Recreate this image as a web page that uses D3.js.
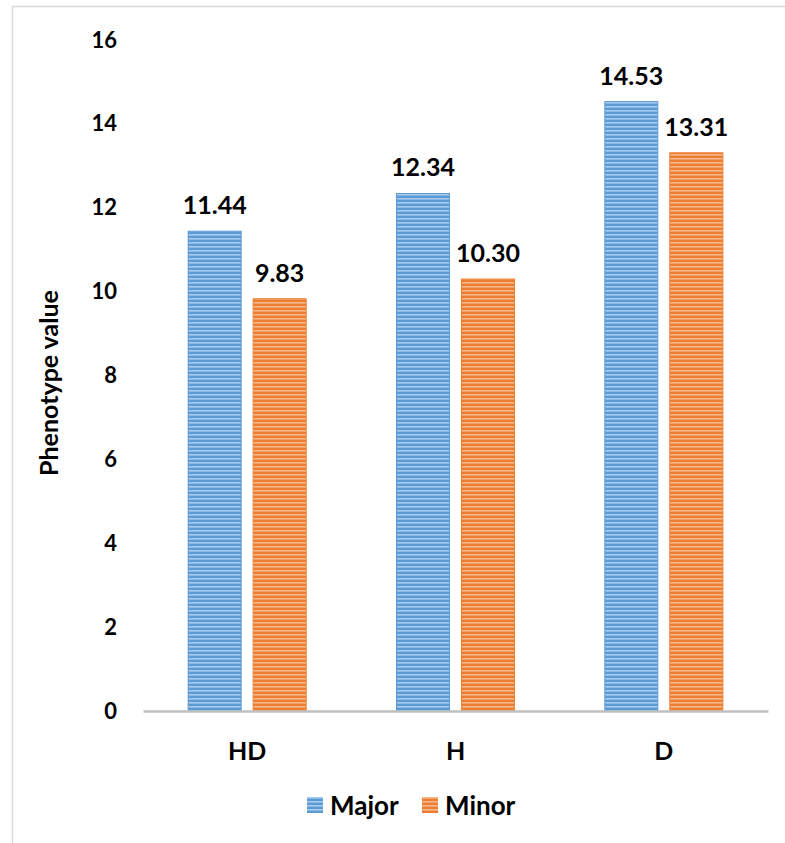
<!DOCTYPE html>
<html>
<head>
<meta charset="utf-8">
<script src="https://cdn.jsdelivr.net/npm/d3@7"></script>
<style>
  html, body { margin: 0; padding: 0; background: #fff; }
  svg { display: block; }
  text { font-family: "Lato", "Open Sans", sans-serif; font-weight: 700; fill: #000; }
</style>
</head>
<body>
<svg id="chart" width="785" height="843"></svg>
<script>
// Genotype groups and mean phenotype values
const categories = ["HD", "H", "D"];
const seriesNames = ["Major", "Minor"];
const majorValues = [11.44, 12.34, 14.53];
const minorValues = [9.83, 10.30, 13.31];
const yTicks = [0, 2, 4, 6, 8, 10, 12, 14, 16];

const colors = { Major: "#5b9bd5", Minor: "#ed7d31" };
const stripeLight = { Major: "#a9cbec", Minor: "#f6b98e" };
const FONT = "Lato, 'Open Sans', sans-serif";

const svg = d3.select("#chart");

// Outer frame
svg.append("rect")
  .attr("x", 12.5).attr("y", 6.5)
  .attr("width", 900).attr("height", 1000)
  .attr("fill", "none").attr("stroke", "#d9d9d9").attr("stroke-width", 1.5);

// Horizontal stripe fills
const defs = svg.append("defs");
seriesNames.forEach(s => {
  const p = defs.append("pattern")
    .attr("id", "stripe-" + s)
    .attr("patternUnits", "userSpaceOnUse")
    .attr("width", 8).attr("height", 4);
  p.append("rect").attr("width", 8).attr("height", 4).attr("fill", colors[s]);
  p.append("rect").attr("y", 2).attr("width", 8).attr("height", 1.6).attr("fill", stripeLight[s]);
});

const x0 = d3.scaleBand().domain(categories).range([143, 768]).paddingInner(0).paddingOuter(0);
const y = d3.scaleLinear().domain([0, 16]).range([711, 40]);

const barW = 53, gap = 12;
const data = categories.map((c, i) => ({ cat: c, Major: majorValues[i], Minor: minorValues[i] }));

// Y axis tick labels
const yAxis = d3.axisLeft(y).tickValues(yTicks).tickSize(0).tickPadding(0);
const gy = svg.append("g").attr("transform", "translate(117,0)").call(yAxis);
gy.select(".domain").remove();
gy.selectAll("text").attr("font-size", 22).style("font-family", FONT).style("font-weight", 700).attr("fill", "#000");

// Y axis title
svg.append("text")
  .attr("transform", "translate(58,383) rotate(-90)")
  .attr("text-anchor", "middle")
  .attr("font-size", 25)
  .text("Phenotype value");

// Bars
const groups = svg.append("g").selectAll("g").data(data).join("g")
  .attr("transform", d => `translate(${x0(d.cat) + x0.bandwidth() / 2},0)`);

seriesNames.forEach((s, si) => {
  const xOff = si === 0 ? -gap / 2 - barW : gap / 2;
  groups.append("rect")
    .attr("x", xOff)
    .attr("y", d => y(d[s]))
    .attr("width", barW)
    .attr("height", d => y(0) - y(d[s]))
    .attr("fill", `url(#stripe-${s})`)
    .attr("stroke", colors[s]).attr("stroke-width", 1);
  groups.append("text")
    .attr("x", xOff + barW / 2)
    .attr("y", d => y(d[s]) - 17)
    .attr("text-anchor", "middle")
    .attr("font-size", 25)
    .text(d => d[s].toFixed(2));
});

// X axis baseline and category labels
const xAxis = d3.axisBottom(x0).tickSize(0).tickPadding(31);
const gx = svg.append("g").attr("transform", "translate(0,711)").call(xAxis);
gx.select(".domain").attr("stroke", "#bfbfbf").attr("stroke-width", 2.5);
gx.selectAll("text").attr("font-size", 25).style("font-family", FONT).style("font-weight", 700).attr("fill", "#000");

// Legend
const legend = svg.append("g").attr("transform", "translate(0,815)");
const legendItems = [{ name: "Major", x: 307 }, { name: "Minor", x: 422 }];
legendItems.forEach(it => {
  legend.append("rect").attr("x", it.x).attr("y", -18).attr("width", 16).attr("height", 16)
    .attr("fill", `url(#stripe-${it.name})`);
  legend.append("text").attr("x", it.x + 23).attr("y", 0).attr("font-size", 26).text(it.name);
});
</script>
</body>
</html>
